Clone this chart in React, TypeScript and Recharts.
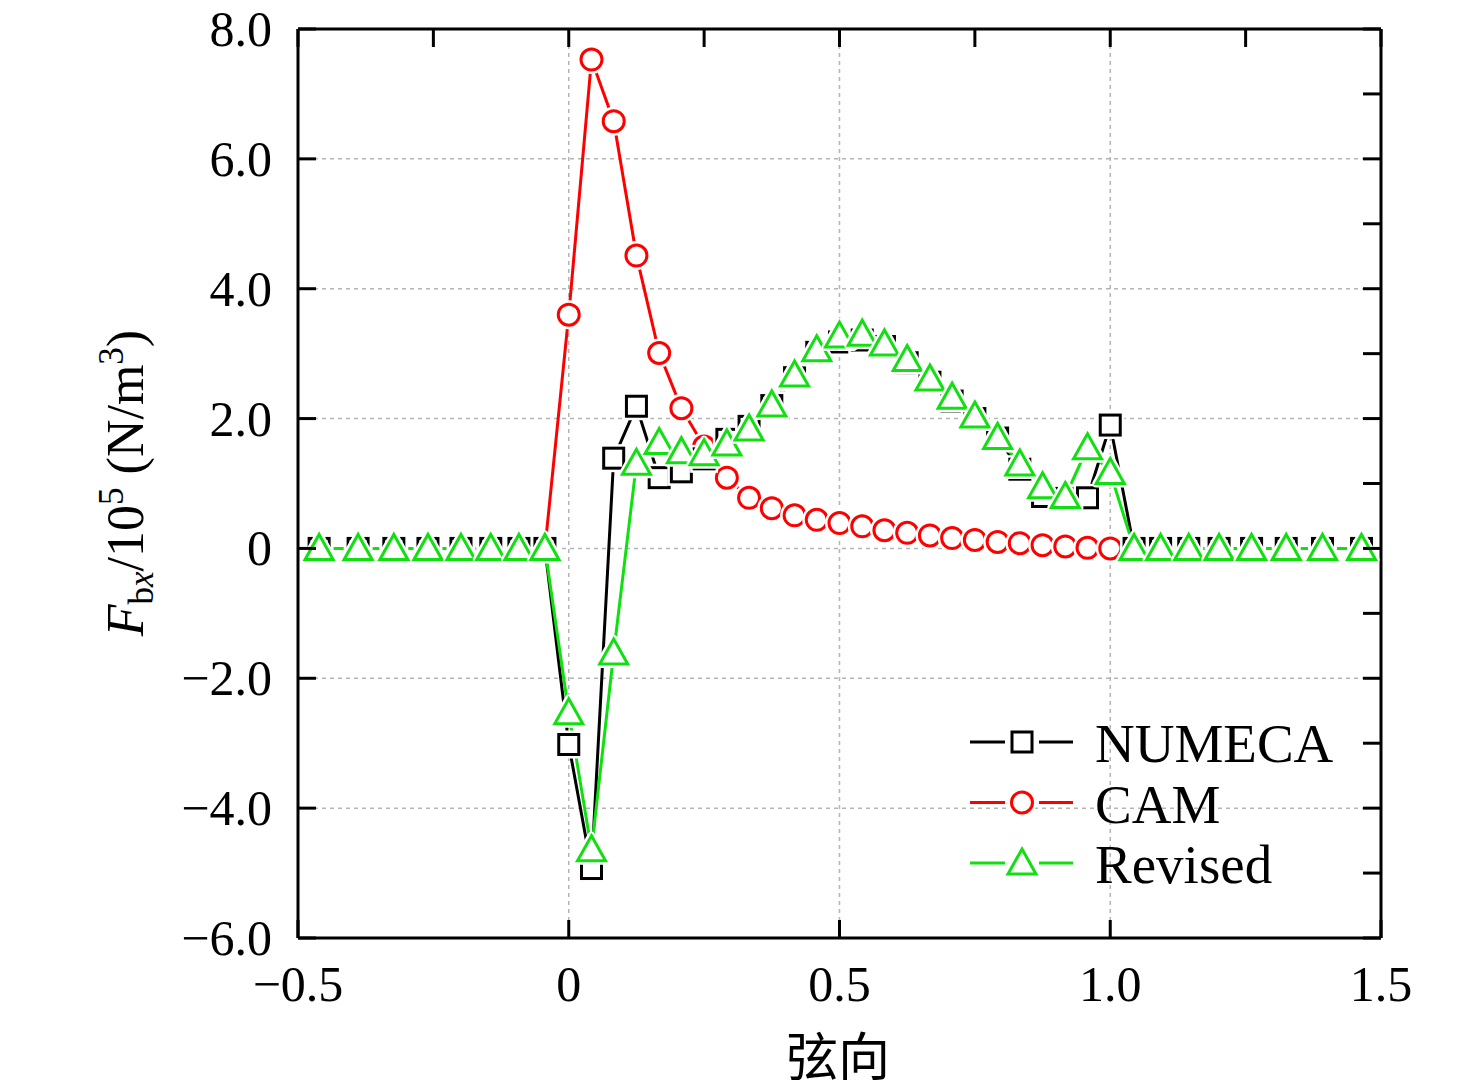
import React from "react";
import { CartesianGrid, Legend, Line, LineChart, XAxis, YAxis } from "recharts";

// chordwise position
const chordX = [
  -0.461, -0.389, -0.323, -0.26, -0.199, -0.144, -0.092, -0.044,
  0, 0.042, 0.083, 0.125, 0.167, 0.208, 0.25, 0.292, 0.333, 0.375, 0.417, 0.458, 0.5,
  0.542, 0.583, 0.625, 0.667, 0.708, 0.75, 0.792, 0.833, 0.875, 0.917, 0.958, 1.0,
  1.044, 1.093, 1.145, 1.201, 1.261, 1.325, 1.392, 1.464,
];

const numeca = [
  0, 0, 0, 0, 0, 0, 0, 0,
  -3.02, -4.93, 1.39, 2.19, 1.09, 1.18, 1.38, 1.68, 1.88, 2.2, 2.63, 3.02, 3.18,
  3.21, 3.11, 2.86, 2.56, 2.27, 2.0, 1.7, 1.22, 0.8, 0.77, 0.78, 1.9,
  0, 0, 0, 0, 0, 0, 0, 0,
];

const cam = [
  0, 0, 0, 0, 0, 0, 0, 0,
  3.6, 7.53, 6.58, 4.51, 3.01, 2.16, 1.57, 1.09, 0.78, 0.62, 0.51, 0.44, 0.39,
  0.34, 0.28, 0.24, 0.2, 0.16, 0.13, 0.1, 0.08, 0.05, 0.03, 0.01, 0.0,
  0, 0, 0, 0, 0, 0, 0, 0,
];

const revised = [
  0, 0, 0, 0, 0, 0, 0, 0,
  -2.53, -4.64, -1.61, 1.31, 1.63, 1.49, 1.46, 1.61, 1.84, 2.21, 2.67, 3.06, 3.27,
  3.3, 3.15, 2.91, 2.61, 2.33, 2.04, 1.71, 1.3, 0.95, 0.8, 1.55, 1.17,
  0, 0, 0, 0, 0, 0, 0, 0,
];

const xTicks = [-0.5, 0, 0.5, 1.0, 1.5];
const xMinorTicks = [-0.5, -0.25, 0, 0.25, 0.5, 0.75, 1.0, 1.25, 1.5];
const yTicks = [-6, -4, -2, 0, 2, 4, 6, 8];
const yMinorTicks = [-6, -5, -4, -3, -2, -1, 0, 1, 2, 3, 4, 5, 6, 7, 8];

const data = chordX.map((x, i) => ({ x, numeca: numeca[i], cam: cam[i], revised: revised[i] }));

const SERIF = '"Liberation Serif", "Times New Roman", serif';
const BLACK = "#000000";
const RED = "#ff0000";
const GREEN = "#10e010";
const TICK = 18;

const fmt = (v: number) => (v === 0 ? "0" : v.toFixed(1).replace("-", "\u2212"));

const Square = ({ cx, cy, color }: any) => (
  <g>
    <rect x={cx - 10} y={cy - 10} width={20} height={20} fill="#fff" stroke="#fff" strokeWidth={8} />
    <rect x={cx - 10} y={cy - 10} width={20} height={20} fill="#fff" stroke={color} strokeWidth={3} />
  </g>
);

const Circle = ({ cx, cy, color }: any) => (
  <g>
    <circle cx={cx} cy={cy} r={10.5} fill="#fff" stroke="#fff" strokeWidth={8} />
    <circle cx={cx} cy={cy} r={10.5} fill="#fff" stroke={color} strokeWidth={3} />
  </g>
);

const triPath = (cx: number, cy: number) =>
  `M${cx},${cy - 14} L${cx + 14},${cy + 11} L${cx - 14},${cy + 11} Z`;

const Triangle = ({ cx, cy, color }: any) => (
  <g>
    <path d={triPath(cx, cy)} fill="#fff" stroke="#fff" strokeWidth={8} strokeLinejoin="round" />
    <path d={triPath(cx, cy)} fill="#fff" stroke={color} strokeWidth={3} />
  </g>
);

const BottomTick = ({ x, y, payload }: any) => (
  <g>
    <line x1={x} y1={y} x2={x} y2={y - TICK} stroke={BLACK} strokeWidth={3} />
    <text x={x} y={y + 63} textAnchor="middle" fontSize={50} fontFamily={SERIF} fill={BLACK}>
      {fmt(payload.value)}
    </text>
  </g>
);

const TopTick = ({ x, y }: any) => (
  <line x1={x} y1={y} x2={x} y2={y + TICK} stroke={BLACK} strokeWidth={3} />
);

const LeftTick = ({ x, y, payload }: any) => (
  <g>
    <line x1={x} y1={y} x2={x + TICK} y2={y} stroke={BLACK} strokeWidth={3} />
    <text x={x - 26} y={y + 17} textAnchor="end" fontSize={50} fontFamily={SERIF} fill={BLACK}>
      {fmt(payload.value)}
    </text>
  </g>
);

const RightTick = ({ x, y }: any) => (
  <line x1={x} y1={y} x2={x - TICK} y2={y} stroke={BLACK} strokeWidth={3} />
);

const YLabel = () => (
  <text
    x={143}
    y={483}
    transform="rotate(-90 143 483)"
    textAnchor="middle"
    fontSize={52}
    fontFamily={SERIF}
    fill={BLACK}
  >
    <tspan fontStyle="italic">F</tspan>
    <tspan fontSize={35} dy={10}>b</tspan>
    <tspan fontSize={35} fontStyle="italic">x</tspan>
    <tspan dy={-10}>/10</tspan>
    <tspan fontSize={35} dy={-20}>5</tspan>
    <tspan dy={20}> (N/m</tspan>
    <tspan fontSize={35} dy={-20}>3</tspan>
    <tspan dy={20}>)</tspan>
  </text>
);

const XLabel = () => (
  <text x={838} y={1076} textAnchor="middle" fontSize={52} fontFamily='"Noto Sans CJK SC", sans-serif' fill={BLACK}>
    弦向
  </text>
);

const legendRows = [
  { name: "NUMECA", color: BLACK, Marker: Square },
  { name: "CAM", color: RED, Marker: Circle },
  { name: "Revised", color: GREEN, Marker: Triangle },
];

const ChartLegend = () => (
  <svg width={420} height={190}>
    {legendRows.map(({ name, color, Marker }, i) => {
      const cy = 32 + i * 60.5;
      return (
        <g key={name}>
          <line x1={10} y1={cy} x2={45} y2={cy} stroke={color} strokeWidth={3} />
          <line x1={79} y1={cy} x2={113} y2={cy} stroke={color} strokeWidth={3} />
          <Marker cx={62} cy={cy} color={color} />
          <text x={135} y={cy + 20} fontSize={55} fontFamily={SERIF} fill={BLACK}>
            {name}
          </text>
        </g>
      );
    })}
  </svg>
);

export default function App() {
  const axisLine = { stroke: BLACK, strokeWidth: 3 };
  return (
    <div style={{ position: "absolute", left: 0, top: 0, background: "#fff" }}>
      <LineChart width={1476} height={1092} data={data} margin={{ top: 0, right: 0, bottom: 0, left: 0 }}>
        <CartesianGrid
          xAxisId="bottom"
          yAxisId="left"
          stroke="#b4b4b4"
          strokeWidth={1.5}
          strokeDasharray="4 4"
        />
        <XAxis
          xAxisId="bottom"
          dataKey="x"
          type="number"
          domain={[-0.5, 1.5]}
          ticks={xTicks}
          interval={0}
          allowDataOverflow
          height={154}
          axisLine={axisLine}
          tickLine={false}
          tickSize={0}
          tickMargin={0}
          tick={<BottomTick />}
          label={<XLabel />}
        />
        <XAxis
          xAxisId="top"
          dataKey="x"
          orientation="top"
          type="number"
          domain={[-0.5, 1.5]}
          ticks={xMinorTicks}
          interval={0}
          allowDataOverflow
          height={29}
          axisLine={axisLine}
          tickLine={false}
          tickSize={0}
          tickMargin={0}
          tick={<TopTick />}
        />
        <YAxis
          yAxisId="left"
          type="number"
          domain={[-6, 8]}
          ticks={yTicks}
          interval={0}
          allowDataOverflow
          width={298}
          axisLine={axisLine}
          tickLine={false}
          tickSize={0}
          tickMargin={0}
          tick={<LeftTick />}
          label={<YLabel />}
        />
        <YAxis
          yAxisId="right"
          orientation="right"
          type="number"
          domain={[-6, 8]}
          ticks={yMinorTicks}
          interval={0}
          allowDataOverflow
          width={95}
          axisLine={axisLine}
          tickLine={false}
          tickSize={0}
          tickMargin={0}
          tick={<RightTick />}
        />
        {/* invisible series so the mirror axes get a proper scale */}
        <Line
          xAxisId="top"
          yAxisId="right"
          dataKey="cam"
          stroke="none"
          dot={false}
          activeDot={false}
          legendType="none"
          isAnimationActive={false}
        />
        <Line
          xAxisId="bottom"
          yAxisId="left"
          dataKey="cam"
          name="CAM"
          stroke={RED}
          strokeWidth={3}
          isAnimationActive={false}
          activeDot={false}
          dot={(p: any) => <Circle key={`c-${p.index}`} cx={p.cx} cy={p.cy} color={RED} />}
        />
        <Line
          xAxisId="bottom"
          yAxisId="left"
          dataKey="numeca"
          name="NUMECA"
          stroke={BLACK}
          strokeWidth={3}
          isAnimationActive={false}
          activeDot={false}
          dot={(p: any) => <Square key={`s-${p.index}`} cx={p.cx} cy={p.cy} color={BLACK} />}
        />
        <Line
          xAxisId="bottom"
          yAxisId="left"
          dataKey="revised"
          name="Revised"
          stroke={GREEN}
          strokeWidth={3}
          isAnimationActive={false}
          activeDot={false}
          dot={(p: any) => <Triangle key={`t-${p.index}`} cx={p.cx} cy={p.cy} color={GREEN} />}
        />
        <Legend
          layout="vertical"
          align="center"
          verticalAlign="middle"
          content={<ChartLegend />}
          wrapperStyle={{ position: "absolute", left: 960, top: 710, width: 420, height: 190 }}
        />
      </LineChart>
    </div>
  );
}
